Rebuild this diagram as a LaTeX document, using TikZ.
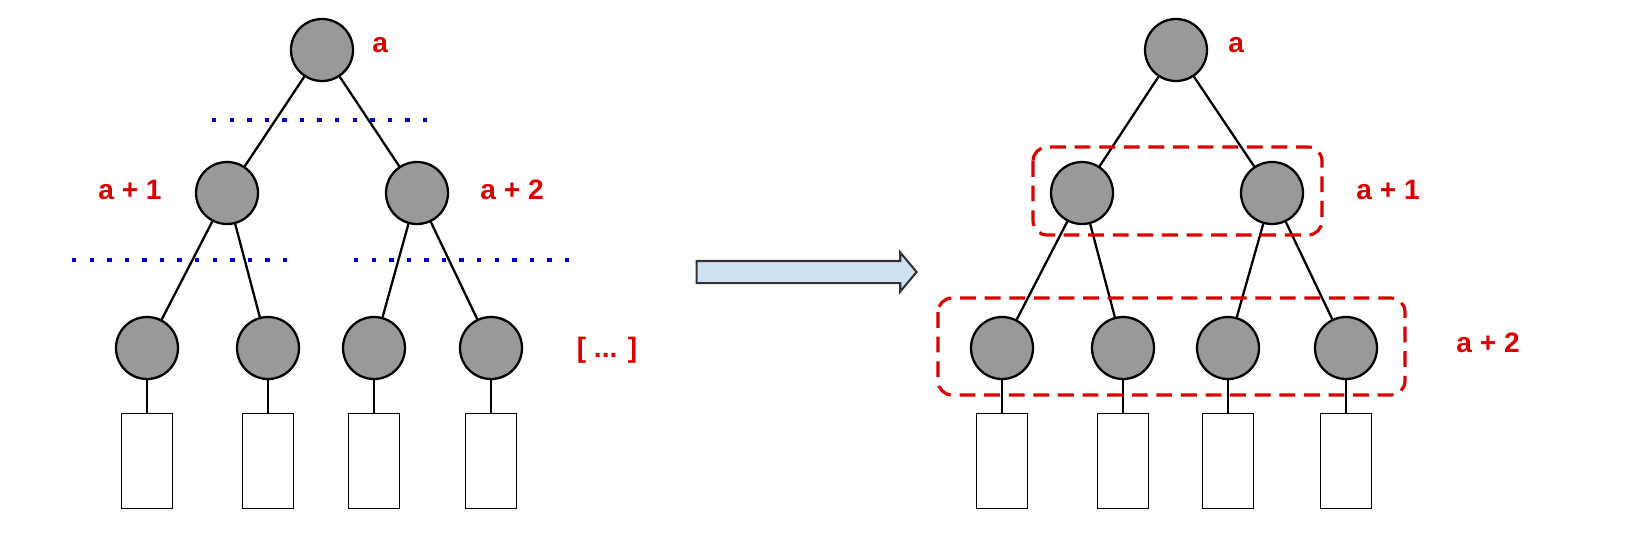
\documentclass[tikz,border=0pt]{standalone}
\usepackage{fontspec}
\setmainfont{Liberation Sans}
\usetikzlibrary{shapes.arrows}
\definecolor{arrfill}{HTML}{CFE2F3}
\begin{document}
\begin{tikzpicture}[x=0.02cm,y=-0.02cm,
  nd/.style={circle,draw=black,fill=black!40,line width=1.3pt,minimum size=1.24cm,inner sep=0pt},
  leaf/.style={rectangle,draw=black,fill=white,line width=1.1pt,minimum width=1.02cm,minimum height=1.9cm,inner sep=0pt},
  lab/.style={text=red!85!black,font=\bfseries\fontsize{16}{18}\selectfont,inner sep=0pt},
  edge/.style={line width=1.3pt},
  dots/.style={blue!80!black,line width=2.5pt,dash pattern=on 2.5pt off 7.5pt},
  grp/.style={draw=red!85!black,line width=1.8pt,dash pattern=on 9pt off 5pt,rounded corners=8pt}]
\useasboundingbox (0,0) rectangle (1628,558);
% left tree
\foreach \n/\x/\y in {r/322/50,p/227/193,q/417/193,c1/147/348,c2/268/348,c3/374/348,c4/491/348}{\node[nd] (L\n) at (\x,\y) {};}
\foreach \i/\x in {1/147,2/268,3/374,4/491}{\node[leaf] (Lb\i) at (\x,461) {}; \draw[edge] (Lc\i) -- (Lb\i);}
\draw[edge] (Lr)--(Lp); \draw[edge] (Lr)--(Lq);
\draw[edge] (Lp)--(Lc1); \draw[edge] (Lp)--(Lc2); \draw[edge] (Lq)--(Lc3); \draw[edge] (Lq)--(Lc4);
\draw[dots] (212,120) -- (430,120);
\draw[dots] (72,260) -- (290,260);
\draw[dots] (354,260) -- (570,260);
\node[lab,anchor=west] (La) at (372,45) {a};
\node[lab] (La1) at (130,190) {a + 1};
\node[lab] (La2) at (512,190) {a + 2};
\node[lab] (Ldots) at (607,350) {[ ... ]};
% arrow
\node[single arrow,draw=black!80,fill=arrfill,line width=1.2pt,minimum height=4.4cm,inner sep=0.2cm,single arrow head extend=0.17cm,single arrow tip angle=100] (arr) at (802,272) {};
% right tree
\foreach \n/\x/\y in {r/1176/50,p/1082/193,q/1272/193,c1/1002/348,c2/1123/348,c3/1228/348,c4/1346/348}{\node[nd] (R\n) at (\x,\y) {};}
\foreach \i/\x in {1/1002,2/1123,3/1228,4/1346}{\node[leaf] (Rb\i) at (\x,461) {}; \draw[edge] (Rc\i) -- (Rb\i);}
\draw[edge] (Rr)--(Rp); \draw[edge] (Rr)--(Rq);
\draw[edge] (Rp)--(Rc1); \draw[edge] (Rp)--(Rc2); \draw[edge] (Rq)--(Rc3); \draw[edge] (Rq)--(Rc4);
\draw[grp] (1033,147) rectangle (1322,235);
\draw[grp] (938,298) rectangle (1405,395);
\node[lab,anchor=west] (Ra) at (1228,45) {a};
\node[lab] (Ra1) at (1388,190) {a + 1};
\node[lab] (Ra2) at (1488,343) {a + 2};
\end{tikzpicture}
\end{document}
